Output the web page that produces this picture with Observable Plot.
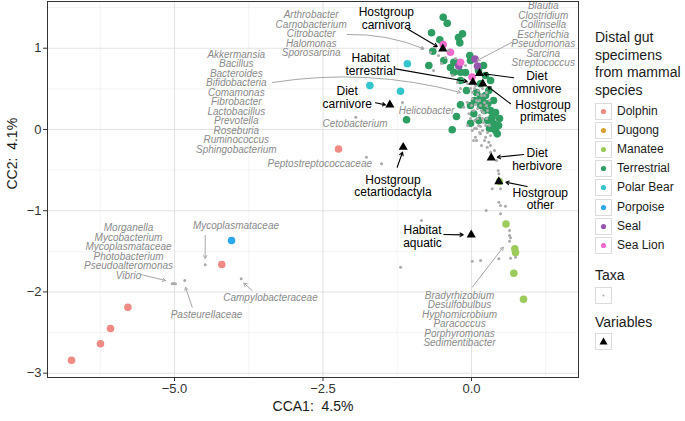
<!DOCTYPE html>
<html><head><meta charset="utf-8">
<script src="https://cdn.jsdelivr.net/npm/d3@7"></script>
<script src="https://cdn.jsdelivr.net/npm/@observablehq/plot@0.6"></script>
<style>
body{margin:0;background:#fff;font-family:"Liberation Sans",Arial,Helvetica,sans-serif;}
#wrap{position:relative;width:685px;height:421px;overflow:hidden;background:#fff;}
#chart{position:absolute;left:0;top:0;}
.lg{position:absolute;color:#1a1a1a;white-space:nowrap;}
.key{position:absolute;width:17px;height:17px;box-sizing:border-box;border:1px solid #dcdcdc;background:#fff;}
</style></head>
<body><div id="wrap"><div id="chart"></div><div id="legend"></div></div>
<script>
// ---- categories & colours ----
const species = ["Dolphin","Dugong","Manatee","Terrestrial","Polar Bear","Porpoise","Seal","Sea Lion"];
const speciesColors = ["#F08A84","#D9A234","#9CCB5C","#2E9D62","#34C6CC","#2AA9EE","#9656AD","#F06BCC"];

// ---- specimen scores (CCA1, CC2) ----
const dolphin = [[-6.734,-2.840],[-6.246,-2.638],[-6.077,-2.450],[-5.785,-2.188],[-4.204,-1.662],[-2.239,-0.240]];
const dugong = [[0.180,0.295]];
const manatee = [[0.581,-1.164],[0.729,-1.469],[0.741,-1.514],[0.712,-1.769],[0.875,-2.089],[0.471,-0.641]];
const terrestrial = [[-0.476,1.382],[-0.409,1.308],[-0.673,1.190],[-0.152,1.177],[-0.534,1.103],[-0.197,1.066],[-0.219,1.132],
 [-0.652,0.963],[-0.466,0.849],[-0.719,0.787],[-0.029,0.910],[-0.298,0.705],[-0.017,0.849],[-0.269,0.824],[-0.101,0.701],
 [0.118,0.726],[0.202,0.787],[0.236,0.664],[-0.185,0.602],[-0.354,0.763],[-0.298,0.828],[-0.185,0.303],[-0.253,0.159],
 [-0.325,-0.004],[-1.094,0.119],[-0.017,0.077],[0.152,0.562],[0.236,0.418],[0.274,0.316],[0.320,0.233],[0.348,0.151],
 [0.375,0.070],[0.404,-0.013],[0.433,-0.054],[0.291,0.479],[0.039,0.193],[0.123,0.110],[0.185,0.356],[0.219,0.233],
 [0.269,0.110],[0.320,0.602],[0.084,0.455],[0.370,0.356],[0.404,0.209],[0.455,0.049],[0.051,0.356],[-0.084,0.479],
 [0.152,0.295],[-0.185,0.705],[0.303,0.012],[0.471,0.135],[-0.017,0.295],[0.152,0.397]];
const polarBear = [[-1.080,0.808],[-1.711,0.540],[-1.195,0.471]];
const porpoise = [[-4.040,-1.367]];
const seal = [[-0.214,0.781],[0.059,0.867],[0.101,0.781]];
const seaLion = [[-0.476,1.046],[-0.354,0.951],[-0.185,0.828],[0.008,0.646]];
const speciesPoints = [dolphin,dugong,manatee,terrestrial,polarBear,porpoise,seal,seaLion];

// ---- taxa scores ----
const taxaPoints = [[-4.483,-1.666],[-5.039,-1.900],[-4.983,-1.900],[-5.017,-1.896],[-4.827,-1.859],[-3.877,-1.838],
 [-1.948,0.151],[-1.162,0.331],[-1.768,-0.342],[-1.515,-0.423],
 [-0.825,0.996],[-0.690,0.947],[-0.606,1.009],[-0.556,0.910],[-0.640,0.725],[-0.438,0.885],[-0.387,0.972],[-0.269,0.873],
 [-0.101,0.787],[-0.067,0.566],[-0.185,0.504],[-0.236,0.578],[-0.320,0.664],[-0.505,0.812],
 [0.067,0.541],[0.118,0.479],[0.168,0.418],[0.084,0.356],[0.152,0.295],[0.219,0.418],[0.034,0.233],[0.135,0.172],
 [0.202,0.209],[0.253,0.135],[0.118,0.049],[0.185,-0.013],[0.067,-0.095],[0.152,-0.054],[0.236,-0.095],[0.291,-0.157],
 [0.264,-0.218],[0.320,-0.280],[0.012,-0.013],[-0.045,0.193],[-0.130,0.274],[-0.072,0.335],[0.012,0.377],[0.017,0.455],
 [0.253,0.295],[0.303,0.049],[0.051,0.110],[0.101,0.258],[-0.017,0.504],[0.202,0.085],[0.084,0.012],
 [0.051,0.504],[0.101,0.430],[0.185,0.504],[0.253,0.455],[0.135,0.356],[0.219,0.332],[0.303,0.356],[0.067,0.307],
 [0.000,0.295],[0.168,0.233],[0.269,0.233],[0.101,0.135],[0.185,0.135],[0.236,0.049],[0.152,0.036],[0.051,0.012],
 [0.135,-0.038],[0.219,-0.136],[0.168,-0.197],[0.269,-0.038],[0.320,-0.074],[0.034,-0.136],[-0.017,0.135],[-0.067,0.049],
 [0.084,-0.136],
 [0.320,-0.197],[0.449,-0.505],[0.460,-0.546],[0.349,-0.730],[0.488,-0.730],[0.460,-0.895],[0.488,-0.936],[0.572,-0.945],
 [0.247,-0.998],[0.640,-1.244],[0.640,-1.305],[0.657,-1.334],[0.640,-1.375],[0.012,-1.622],[0.152,-1.613],[0.460,-1.592],
 [0.657,-1.585],[0.741,-1.572],[-1.195,-1.695],[-0.842,-1.121],[0.488,-1.038],[0.421,-0.382],[0.387,-0.259]];

// ---- taxa labels: text, label position, arrow from, arrow to ----
const taxaLabels = [
 "Akkermansia\nBacillus\nBacteroides\nBifidobacteria\nComamonas\nFibrobacter\nLactobacillus\nPrevotella\nRoseburia\nRuminococcus\nSphingobacterium",
 "Arthrobacter\nCarnobacterium\nCitrobacter\nHalomonas\nSporosarcina",
 "Blautia\nClostridium\nCollinsella\nEscherichia\nPseudomonas\nSarcina\nStreptococcus",
 "Helicobacter","Cetobacterium","Peptostreptococcaceae","Mycoplasmataceae",
 "Morganella\nMycobacterium\nMycoplasmataceae\nPhotobacterium\nPseudoalteromonas\nVibrio",
 "Pasteurellaceae","Campylobacteraceae",
 "Bradyrhizobium\nDesulfobulbus\nHyphomicrobium\nParacoccus\nPorphyromonas\nSedimentibacter"];
const taxaLabelX = [-3.960,-2.699,1.207,-0.758,-1.961,-2.555,-3.965,-5.774,-4.461,-3.384,-0.202];
const taxaLabelY = [0.334,1.170,1.164,0.233,0.070,-0.423,-1.191,-1.508,-2.278,-2.072,-2.339];
const taxaArrowFrom = [[-3.350,0.578],[-2.093,1.169],[0.685,1.074],null,null,null,[-4.483,-1.305],[-5.572,-1.785],[-4.702,-2.188],[-3.692,-1.982],[0.012,-1.942]];
const taxaArrowTo   = [[-0.185,0.455],[-0.803,0.993],[0.096,0.849],null,null,null,[-4.483,-1.588],[-5.152,-1.859],[-4.815,-1.942],[-3.833,-1.892],[0.534,-1.449]];
const curvedTaxa = [0,1];

// ---- environmental variables ----
const varLabels = ["Hostgroup\ncarnivora","Habitat\nterrestrial","Diet\nomnivore","Hostgroup\nprimates","Diet\ncarnivore",
 "Hostgroup\ncetartiodactyla","Diet\nherbivore","Hostgroup\nother","Habitat\naquatic"];
const varX = [-0.483,0.022,0.135,0.190,-1.375,-1.150,0.332,0.460,-0.005];
const varY = [0.993,0.582,0.692,0.562,0.303,-0.218,-0.349,-0.641,-1.297];
const varLabelX = [-1.434,-1.700,1.099,1.204,-2.093,-1.322,1.106,1.158,-0.825];
const varLabelY = [1.367,0.797,0.582,0.227,0.393,-0.696,-0.372,-0.854,-1.315];
const varArrowFrom = [[-1.082,1.239],[-1.279,0.746],[0.712,0.636],[0.657,0.316],[-1.616,0.328],[-1.251,-0.465],[0.880,-0.308],[0.938,-0.702],[-0.466,-1.293]];
const varArrowTo = [[-0.577,1.021],[-0.072,0.590],[0.207,0.685],[0.274,0.529],[-1.448,0.303],[-1.162,-0.280],[0.433,-0.342],[0.577,-0.649],[-0.140,-1.297]];

// ---- axes ----
const xTicks = [-5,-2.5,0];
const yTicks = [-3,-2,-1,0,1];
const xMinor = [-6.25,-3.75,-1.25,1.25];
const yMinor = [-2.5,-1.5,-0.5,0.5,1.5];
const xTitle = "CCA1:\u00a0 4.5%";
const yTitle = "CC2:\u00a0 4.1%";

// ---- build tables ----
const specimens = speciesPoints.flatMap((pts,i)=>pts.map(([x,y])=>({sp:species[i],x,y})));
const taxa = taxaPoints.map(([x,y])=>({x,y}));
const tLabels = taxaLabels.map((t,i)=>({t,x:taxaLabelX[i],y:taxaLabelY[i]}));
const tArrows = taxaLabels.map((t,i)=>taxaArrowFrom[i]?{i,x1:taxaArrowFrom[i][0],y1:taxaArrowFrom[i][1],x2:taxaArrowTo[i][0],y2:taxaArrowTo[i][1]}:null).filter(d=>d);
const vars = varLabels.map((t,i)=>({t,x:varX[i],y:varY[i],lx:varLabelX[i],ly:varLabelY[i],
  x1:varArrowFrom[i][0],y1:varArrowFrom[i][1],x2:varArrowTo[i][0],y2:varArrowTo[i][1]}));

const font = '"Liberation Sans",Arial,Helvetica,sans-serif';
const chart = Plot.plot({
  width: 580, height: 421,
  marginLeft: 47, marginRight: 2, marginTop: 1, marginBottom: 44,
  x: {domain: [-7.138, 1.801]},
  y: {domain: [-3.053, 1.575]},
  color: {domain: species, range: speciesColors},
  style: {fontFamily: font, background: "#fff"},
  marks: [
    Plot.ruleX(xMinor, {stroke: "#ececec", strokeWidth: 0.6}),
    Plot.ruleY(yMinor, {stroke: "#ececec", strokeWidth: 0.6}),
    Plot.ruleX(xTicks, {stroke: "#e2e2e2", strokeWidth: 1.1}),
    Plot.ruleY(yTicks, {stroke: "#e2e2e2", strokeWidth: 1.1}),
    Plot.axisX({ticks: xTicks, tickFormat: d3.format(".1f"), tickSize: 4, tickPadding: 2, fontSize: 13, label: null, color: "#333"}),
    Plot.axisY({ticks: yTicks, tickFormat: d3.format("d"), tickSize: 4, tickPadding: 2, fontSize: 13, label: null, color: "#333"}),
    Plot.text([xTitle], {frameAnchor: "bottom", dy: 33, fontSize: 14, fill: "#1a1a1a"}),
    Plot.text([yTitle], {frameAnchor: "left", dx: -35, rotate: -90, fontSize: 14, fill: "#1a1a1a"}),
    Plot.dot(specimens, {x: "x", y: "y", fill: "sp", r: 3.8, stroke: "none"}),
    Plot.dot(taxa, {x: "x", y: "y", fill: "#ababab", r: 1.5, stroke: "none"}),
    Plot.arrow(tArrows.filter(d=>curvedTaxa.includes(d.i)), {x1:"x1",y1:"y1",x2:"x2",y2:"y2", bend: 12, stroke: "#a6a6a6", strokeWidth: 1, headLength: 5}),
    Plot.arrow(tArrows.filter(d=>!curvedTaxa.includes(d.i)), {x1:"x1",y1:"y1",x2:"x2",y2:"y2", stroke: "#a6a6a6", strokeWidth: 1, headLength: 5}),
    Plot.text(tLabels, {x: "x", y: "y", text: "t", fontSize: 10, fontStyle: "italic", fill: "#8a8a8a", lineHeight: 0.95}),
    Plot.dot(vars, {x: "x", y: "y", symbol: "triangle", r: 3.4, fill: "#000", stroke: "none"}),
    Plot.arrow(vars, {x1:"x1",y1:"y1",x2:"x2",y2:"y2", stroke: "#000", strokeWidth: 1.1, headLength: 5}),
    Plot.text(vars, {x: "lx", y: "ly", text: "t", fontSize: 12, fill: "#000", lineHeight: 1.05}),
    Plot.frame({stroke: "#333", strokeWidth: 1})
  ]
});
document.getElementById("chart").appendChild(chart);

// ---- legend ----
const lg = document.getElementById("legend");
function el(cls, css, html){const d=document.createElement("div");d.className=cls;d.style.cssText=css;if(html!=null)d.innerHTML=html;lg.appendChild(d);return d;}
el("lg","left:595px;top:29px;font-size:14px;line-height:17.5px;","Distal gut<br>specimens<br>from mammal<br>species");
species.forEach((s,i)=>{
  const top = 102.5 + i*19.2;
  const k = el("key", `left:595px;top:${top}px;`);
  k.innerHTML = `<svg width="15" height="15" style="position:absolute;left:0;top:0"><circle cx="7.5" cy="7.5" r="2.6" fill="${speciesColors[i]}"/></svg>`;
  el("lg", `left:617px;top:${top}px;font-size:12px;line-height:17px;`, s);
});
el("lg","left:595px;top:266px;font-size:14px;line-height:18px;","Taxa");
el("key","left:595px;top:287px;").innerHTML = `<svg width="15" height="15" style="position:absolute;left:0;top:0"><circle cx="7.5" cy="7.5" r="1" fill="#a9a9a9"/></svg>`;
el("lg","left:595px;top:313px;font-size:14px;line-height:18px;","Variables");
el("key","left:595px;top:333px;").innerHTML = `<svg width="15" height="15" style="position:absolute;left:0;top:0"><path d="M7.5,3.5L11.5,10.5L3.5,10.5Z" fill="#000"/></svg>`;
</script></body></html>
